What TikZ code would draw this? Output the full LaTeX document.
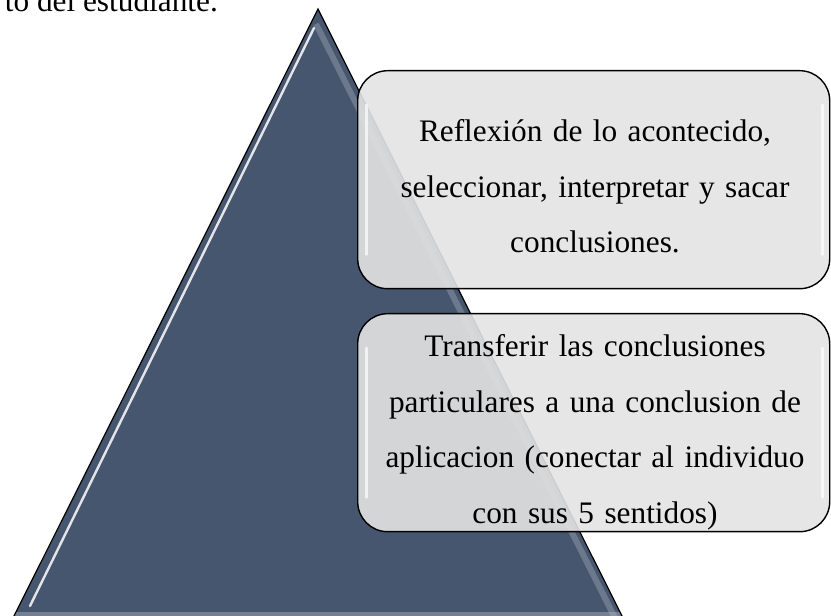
\documentclass[tikz,border=0pt]{standalone}
\usepackage{fontspec}
\setmainfont{Liberation Serif}
\definecolor{pyr}{HTML}{46566E}
\definecolor{boxfill}{HTML}{E3E3E3}
\tikzset{
  glossbox/.style={draw=black, line width=1.4pt, fill=boxfill, fill opacity=0.9, rounded corners=30pt},
  boxtext/.style={text=black, font=\fontsize{31.3}{55.5}\selectfont, align=center, text width=470pt, inner sep=0pt, anchor=base},
  shine/.style={white, line cap=round}
}
\begin{document}
\begin{tikzpicture}[x=1pt,y=1pt]
\useasboundingbox (0,0) rectangle (831,616);
\clip (0,0) rectangle (831,616);
% caption fragment
\node[anchor=base east, inner sep=0pt, font=\fontsize{31.3}{38}\selectfont] (cap) at (218,604) {to del estudiante.};
% pyramid
\coordinate (apex) at (318,607);
\coordinate (bl) at (12,-4);
\coordinate (br) at (624,-4);
\path[fill=pyr] (apex) -- (br) -- (bl) -- cycle;
\fill[white, opacity=0.25] (12,-4) rectangle (624,4);
\draw[pyr!40!white, line width=6pt, opacity=0.35] (316,592) -- (616,-4);
\draw[shine, line width=2.4pt, opacity=0.85] (314,588) -- (30,10);
\draw[black, line width=1.2pt, line join=miter] (bl) -- (apex) -- (br);
% boxes
\node[glossbox, minimum width=472pt, minimum height=218pt, anchor=north west, inner sep=0pt] (b1) at (357,546) {};
\node[glossbox, minimum width=472pt, minimum height=218pt, anchor=north west, inner sep=0pt] (b2) at (357,303) {};
\draw[shine, line width=3pt, opacity=0.7] ([xshift=9pt,yshift=-35pt]b1.north west) -- ([xshift=9pt,yshift=35pt]b1.south west);
\draw[shine, line width=3pt, opacity=0.7] ([xshift=-8pt,yshift=-35pt]b1.north east) -- ([xshift=-8pt,yshift=35pt]b1.south east);
\draw[shine, line width=3pt, opacity=0.7] ([xshift=9pt,yshift=-35pt]b2.north west) -- ([xshift=9pt,yshift=35pt]b2.south west);
\draw[shine, line width=3pt, opacity=0.7] ([xshift=-8pt,yshift=-35pt]b2.north east) -- ([xshift=-8pt,yshift=35pt]b2.south east);
% texts
\node[boxtext] (t1) at (595,474) {Reflexión de lo acontecido,\\seleccionar, interpretar y sacar\\conclusiones.};
\node[boxtext] (t2) at (595,259) {Transferir las conclusiones\\particulares a una conclusion de\\aplicacion (conectar al individuo\\con sus 5 sentidos)};
\end{tikzpicture}
\end{document}
